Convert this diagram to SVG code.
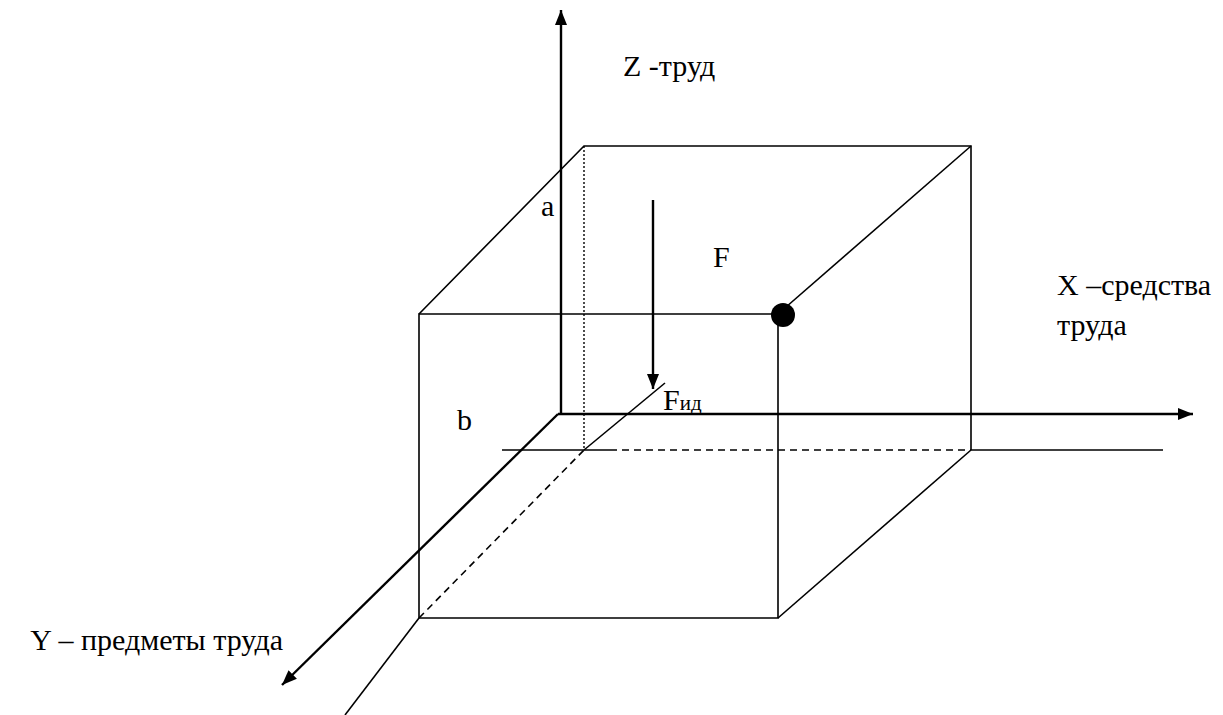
<svg xmlns="http://www.w3.org/2000/svg" width="1223" height="715" viewBox="0 0 1223 715">
<defs>
<marker id="ahL" viewBox="0 0 10 10" refX="10" refY="5" markerWidth="15" markerHeight="15" markerUnits="userSpaceOnUse" orient="auto"><path d="M0,1 L10,5 L0,9 z" fill="#000"/></marker>
<style>
.t{font-size:30px;fill:#000}
.s{font-size:21px}
.l{stroke:#000;stroke-width:1.6;fill:none}
.ax{stroke:#000;stroke-width:2.4;fill:none}
.d{stroke:#000;stroke-width:1.6;fill:none;stroke-dasharray:7 5}
.dot{stroke:#000;stroke-width:1.4;fill:none;stroke-dasharray:2 2}
</style>
</defs>
<rect width="1223" height="715" fill="#fff"/>
<g id="box">
<path class="l" d="M419,618 V314 H778 V618 Z"/>
<path class="l" d="M419,314 L584,146 H971 V450"/>
<path class="l" d="M778,314 L971,146"/>
<path class="l" d="M778,618 L971,450"/>
<line class="dot" x1="584" y1="146" x2="584" y2="450"/>
<line class="d" x1="419" y1="618" x2="584" y2="450"/>
<line class="d" x1="610" y1="450" x2="971" y2="450"/>
</g>
<g id="connectors">
<line class="ax" x1="561" y1="415" x2="561" y2="10" marker-end="url(#ahL)"/>
<line class="ax" x1="558" y1="414" x2="1193" y2="414" marker-end="url(#ahL)"/>
<line class="ax" x1="558" y1="414" x2="282" y2="685" marker-end="url(#ahL)"/>
<line class="ax" x1="653" y1="200" x2="653" y2="389" marker-end="url(#ahL)"/>
<line class="l" x1="502" y1="450" x2="610" y2="450"/>
<line class="l" x1="971" y1="450" x2="1163" y2="450"/>
<line class="l" x1="345" y1="715" x2="419" y2="618"/>
<line class="l" x1="584" y1="450" x2="665" y2="383"/>
</g>
<g id="point"><circle cx="783" cy="315" r="12" fill="#000"/></g>
<g id="labels" font-family="'Liberation Serif', 'Times New Roman', 'DejaVu Serif', serif">
<text class="t" x="623" y="76">Z -труд</text>
<text class="t" x="541" y="216">a</text>
<text class="t" x="713" y="267">F</text>
<text class="t" x="457" y="430">b</text>
<text class="t" x="663" y="410">F<tspan class="s">ид</tspan></text>
<text class="t" x="1057" y="295">X –средства</text>
<text class="t" x="1057" y="335">труда</text>
<text class="t" x="283" y="650" text-anchor="end">Y – предметы труда</text>
</g>
</svg>
